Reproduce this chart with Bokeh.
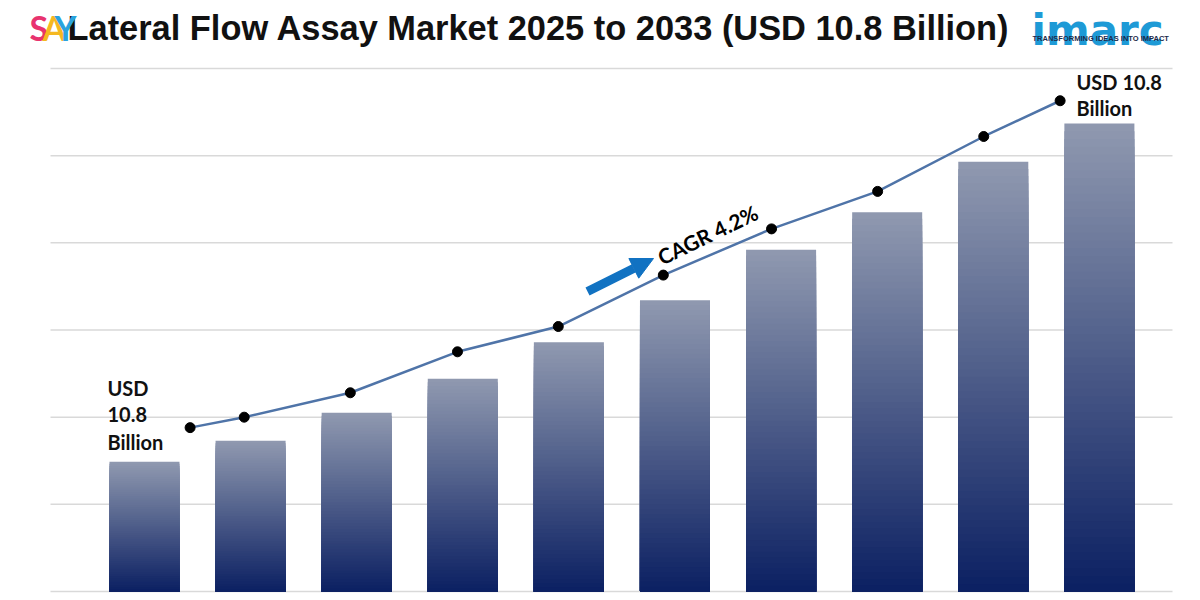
from bokeh.plotting import figure
from bokeh.models import Range1d, Label, Arrow, NormalHead
from bokeh.embed import file_html
from bokeh.resources import INLINE

# ---------------- data ----------------
years = ["2024", "2025", "2026", "2027", "2028", "2029", "2030", "2031", "2032", "2033"]
bar_values = [1.49, 1.73, 2.05, 2.44, 2.86, 3.34, 3.92, 4.35, 4.93, 5.37]
line_pos = [0.43, 0.94, 1.94, 2.95, 3.90, 4.89, 5.91, 6.91, 7.91, 8.63]
line_values = [1.88, 2.00, 2.28, 2.75, 3.04, 3.63, 4.16, 4.59, 5.22, 5.63]
grid_levels = [0, 1, 2, 3, 4, 5, 6]

title_text = "Lateral Flow Assay Market 2025 to 2033 (USD 10.8 Billion)"
cagr_text = "CAGR 4.2%"
start_label = ["USD", "10.8", "Billion"]
end_label = ["USD 10.8", "Billion"]

# ---------------- figure ----------------
W, H = 1200, 600
x0, x1 = -1.357, 9.953
y0, y1 = -0.103, 6.780

p = figure(width=W, height=H, output_backend="svg", toolbar_location=None,
           x_range=Range1d(x0, x1), y_range=Range1d(y0, y1),
           x_axis_location=None, y_axis_location=None, min_border=0)
p.grid.visible = False
p.outline_line_color = None
p.background_fill_color = "white"


def px(xpage):
    return x0 + xpage / W * (x1 - x0)


def py(ypage):
    return y1 - ypage / H * (y1 - y0)


# gridlines
p.segment(x0=[px(50)] * len(grid_levels), x1=[px(1172)] * len(grid_levels),
          y0=grid_levels, y1=grid_levels, line_color="#d9d9d9", line_width=1.5)

# gradient bars
top_c = (0x90, 0x99, 0xb0)
bot_c = (0x0b, 0x20, 0x62)
n = 60
lefts, rights, tops, bottoms, colors = [], [], [], [], []
bw = 0.33
for i, v in enumerate(bar_values):
    for k in range(n, 0, -1):
        f = k / n
        t = f - 0.5 / n
        c = tuple(int(round(bot_c[j] + (top_c[j] - bot_c[j]) * t)) for j in range(3))
        lefts.append(i - bw)
        rights.append(i + bw)
        bottoms.append(0)
        tops.append(v * f)
        colors.append("#%02x%02x%02x" % c)
p.quad(left=lefts, right=rights, bottom=bottoms, top=tops, fill_color=colors, line_color=None)

# line with markers
p.line(line_pos, line_values, line_color="#4f74a8", line_width=2.5)
p.scatter(line_pos, line_values, size=10, fill_color="black", line_color="black")

# arrow + CAGR
p.add_layout(Arrow(end=NormalHead(size=22, fill_color="#1172c2", line_color="#1172c2"),
                   x_start=px(587), y_start=py(291), x_end=px(653), y_end=py(258),
                   line_color="#1172c2", line_width=9))
p.add_layout(Label(x=px(707), y=py(234), text=cagr_text, angle=0.45,
                   text_align="center", text_baseline="middle",
                   text_font="Lato", text_font_style="bold", text_font_size="21px",
                   text_color="black"))

# value labels
for t, yy in zip(start_label, [387, 414, 441]):
    p.add_layout(Label(x=px(107), y=py(yy), text=t, text_align="left", text_baseline="middle",
                       text_font="Lato", text_font_style="bold", text_font_size="20px",
                       text_color="#111111"))
for t, yy in zip(end_label, [81, 107]):
    p.add_layout(Label(x=px(1076), y=py(yy), text=t, text_align="left", text_baseline="middle",
                       text_font="Lato", text_font_style="bold", text_font_size="20px",
                       text_color="#111111"))

# title
p.add_layout(Label(x=px(67), y=py(27), text=title_text, text_align="left",
                   text_baseline="alphabetic", text_font="Liberation Sans",
                   text_font_style="bold", text_font_size="34.4px", text_color="#111111"))

# SAY logo
for letter, xx, col in [("S", 29, "#e8336f"), ("A", 42, "#f5b820"), ("Y", 54, "#29a3dd")]:
    p.add_layout(Label(x=px(xx), y=py(27), text=letter, text_align="left",
                       text_baseline="alphabetic", text_font="Lato",
                       text_font_style="bold", text_font_size="34px", text_color=col))

# imarc logo
p.add_layout(Label(x=px(1031), y=py(30), text="imarc", text_align="left",
                   text_baseline="alphabetic", text_font="DejaVu Sans",
                   text_font_style="bold", text_font_size="42px", text_color="#1e9ad6"))
p.add_layout(Label(x=px(1032), y=py(38), text="TRANSFORMING IDEAS INTO IMPACT", text_align="left",
                   text_baseline="middle", text_font="Liberation Sans",
                   text_font_style="bold", text_font_size="7.5px", text_color="#1c2a4a"))

open("out.html", "w").write(file_html(p, INLINE))
